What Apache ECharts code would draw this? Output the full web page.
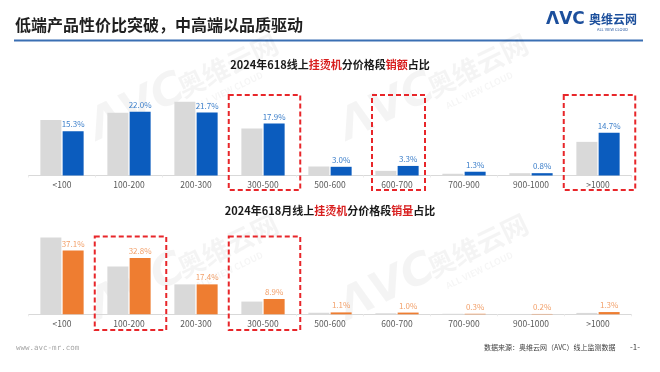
<!DOCTYPE html>
<html><head><meta charset="utf-8">
<script src="https://cdn.jsdelivr.net/npm/echarts@6/dist/echarts.min.js"></script>
<style>html,body{margin:0;padding:0;background:#fff}#c{width:660px;height:372px}</style>
</head><body><div id="c"></div>
<script>
const categories = ['<100','100-200','200-300','300-500','500-600','600-700','700-900','900-1000','>1000'];
const salesPrev = [19.1,21.6,25.4,16.2,3.1,1.6,0.6,0.8,11.6];
const sales2024 = [15.3,22.0,21.7,17.9,3.0,3.3,1.3,0.8,14.7];
const volumePrev = [44.6,27.8,17.4,7.4,0.9,0.6,0.3,0.2,0.8];
const volume2024 = [37.1,32.8,17.4,8.9,1.1,1.0,0.3,0.2,1.3];
const salesAxisMax = 30;
const volumeAxisMax = 50;
const salesHighlight = ['300-500','600-700','>1000'];
const volumeHighlight = ['100-200','300-500'];

const FONT = '"Noto Sans CJK SC", "Noto Sans", sans-serif';
const chart = echarts.init(document.getElementById('c'), null, {renderer:'canvas'});

function xAx(gi){
  return {type:'category', gridIndex:gi, data:categories,
    axisLine:{lineStyle:{color:'#d9d9d9', width:1}},
    axisTick:{show:true, length:2, lineStyle:{color:'#ececec'}},
    axisLabel:{color:'#595959', fontSize:8.5, margin:5, fontFamily:FONT, interval:0}};
}
function yAx(gi, max){
  return {type:'value', gridIndex:gi, min:0, max:max, show:false, splitLine:{show:false}};
}
function bar(gi, data, color, labelColor){
  return {type:'bar', xAxisIndex:gi, yAxisIndex:gi, data:data, barWidth:21, barGap:'6%',
    itemStyle:{color:color},
    label: labelColor ? {show:true, position:'top', distance:3, color:labelColor, fontSize:8, fontFamily:FONT,
      formatter:p=>p.value.toFixed(1)+'%'} : {show:false},
    silent:true, animation:false};
}

const option = {
  animation:false,
  backgroundColor:'#fff',
  grid:[
    {left:28.5, right:28.5, top:88.5, height:87, outerBoundsMode:'none', containLabel:false},
    {left:28.5, right:28.5, top:228.3, height:86, outerBoundsMode:'none', containLabel:false}
  ],
  xAxis:[xAx(0), xAx(1)],
  yAxis:[yAx(0, salesAxisMax), yAx(1, volumeAxisMax)],
  series:[
    bar(0, salesPrev, '#d9d9d9', null),
    bar(0, sales2024, '#0b5cbe', '#3c7fca'),
    bar(1, volumePrev, '#d9d9d9', null),
    bar(1, volume2024, '#ee7d31', '#f2a06a')
  ]
};
chart.setOption(option);

// annotations
const g = [];
g.push({type:'text', left:15, top:17, style:{text:'低端产品性价比突破，中高端以品质驱动', fontSize:16, fontWeight:'bold', fill:'#1f1f1f', fontFamily:FONT}});
g.push({type:'line', shape:{x1:14, y1:40.5, x2:643, y2:40.5}, style:{stroke:'#3a6fb3', lineWidth:2}});
g.push({type:'text', left:546, top:11, style:{text:'ΛVC', fontSize:17, fontWeight:'900', fill:'#1c4f9c', fontFamily:'"DejaVu Sans", sans-serif'}});
g.push({type:'text', left:589, top:13, style:{text:'奥维云网', fontSize:12, fontWeight:'bold', fill:'#1c4f9c', fontFamily:FONT}});
g.push({type:'text', left:597, top:27, style:{text:'ALL VIEW CLOUD', fontSize:4, fill:'#1c4f9c', fontFamily:FONT}});

function subtitle(y, parts){
  g.push({type:'text', left:'center', top:y, style:{
    text: parts.map(p=>'{'+p[1]+'|'+p[0]+'}').join(''),
    rich:{k:{fontSize:11, fontWeight:'bold', fill:'#1a1a1a', fontFamily:FONT},
          r:{fontSize:11, fontWeight:'bold', fill:'#d81e1e', fontFamily:FONT}}}});
}
subtitle(59, [['2024年618线上','k'],['挂烫机','r'],['分价格段','k'],['销额','r'],['占比','k']]);
subtitle(205, [['2024年618月线上','k'],['挂烫机','r'],['分价格段','k'],['销量','r'],['占比','k']]);

g.push({type:'text', left:16, top:344, style:{text:'www.avc-mr.com', fontSize:7.5, fill:'#a6a6a6', fontFamily:'"DejaVu Sans Mono", monospace'}});
g.push({type:'text', left:484, top:344, style:{text:'数据来源：奥维云网（AVC）线上监测数据', fontSize:7, fill:'#404040', fontFamily:FONT}});
g.push({type:'text', left:630, top:343, style:{text:'-1-', fontSize:8, fill:'#404040', fontFamily:FONT}});

// faint watermarks
function watermark(x, y){
  g.push({type:'group', x:x, y:y, rotation:0.45, z:100, silent:true, children:[
    {type:'text', x:0, y:0, style:{text:'ΛVC', fontSize:44, fontWeight:'900', fontStyle:'italic', fill:'rgba(0,0,0,0.045)', fontFamily:'"DejaVu Sans", sans-serif', textVerticalAlign:'bottom'}},
    {type:'text', x:96, y:-8, style:{text:'奥维云网', fontSize:27, fontWeight:'bold', fill:'rgba(0,0,0,0.045)', fontFamily:FONT, textVerticalAlign:'bottom'}},
    {type:'text', x:104, y:6, style:{text:'ALL VIEW CLOUD', fontSize:9, fontWeight:'bold', fill:'rgba(0,0,0,0.04)', fontFamily:FONT, textVerticalAlign:'bottom'}}
  ]});
}
watermark(102, 150);
watermark(352, 150);
watermark(102, 330);
watermark(352, 330);

const boxW = {'600-700':53};
function boxes(axisIdx, list, y1, y2){
  list.forEach(c=>{
    const cx = chart.convertToPixel({xAxisIndex:axisIdx}, c);
    const w = boxW[c] || 71.5;
    g.push({type:'rect', z:110, shape:{x:cx - w/2 + 1.5, y:y1, width:w, height:y2-y1},
      style:{fill:'none', stroke:'#e8262a', lineWidth:2, lineDash:[5,3]}});
  });
}
boxes(0, salesHighlight, 95, 190);
boxes(1, volumeHighlight, 236.5, 330);

chart.setOption({graphic:g});
</script></body></html>
